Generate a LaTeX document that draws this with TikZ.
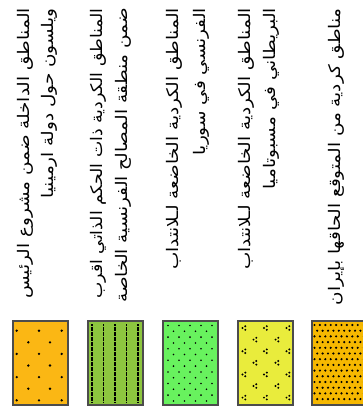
\documentclass[tikz,border=0pt]{standalone}
\usepackage{fontspec}
\newfontfamily\arabicfont[Script=Arabic]{DejaVu Sans}
\TeXXeTstate=1
\tikzset{
  lbl/.style={rotate=90, xscale=1.15, anchor=east, inner sep=0pt, font=\arabicfont\fontsize{16}{18}\selectfont},
  box/.style={draw=black!70, line width=1.1pt},
}
\begin{document}
\begin{tikzpicture}[x=1pt,y=-1pt]
\useasboundingbox (0,0) rectangle (362,412);
% texts
\node[lbl] (c1a) at (25,8) {\beginR المناطق الداخلة ضمن مشروع الرئيس\endR};
\node[lbl] (c1b) at (49,8) {\beginR ويلسون حول دولة ارمينيا\endR};
\node[lbl, xscale=0.94] (c2a) at (98,8) {\beginR المناطق الكردية ذات الحكم الذاتي اقرب\endR};
\node[lbl] (c2b) at (123,8) {\beginR ضمن منطقة المصالح الفرنسية الخاصة\endR};
\node[lbl] (c3a) at (174,8) {\beginR المناطق الكردية الخاضعة لـلانتداب\endR};
\node[lbl] (c3b) at (201,8) {\beginR الفرنسي في سوريا\endR};
\node[lbl] (c4a) at (246,8) {\beginR المناطق الكردية الخاضعة لـلانتداب\endR};
\node[lbl] (c4b) at (271,8) {\beginR البريطاني في مسبوتاميا\endR};
\node[lbl] (c5a) at (336,8) {\beginR مناطق كردية من المتوقع الحاقها بإيران\endR};
% box 1
\fill[color={rgb,255:red,251;green,183;blue,20}] (13,321) rectangle (68,405);
\foreach \k in {0,...,6} {
  \pgfmathsetmacro\yy{330.7+11.6*\k}
  \ifodd\k
    \foreach \xx in {28.3,50} {\fill (\xx,\yy) circle (1.3pt);}
  \else
    \foreach \xx in {16.7,39,61.7} {\fill (\xx,\yy) circle (1.3pt);}
  \fi
}
\draw[box] (13,321) rectangle (68,405);
% box 2
\fill[color={rgb,255:red,141;green,198;blue,63}] (88,321) rectangle (143,405);
\foreach \xx in {92,103.5,115,126.5,138} {
  \draw[line width=1.3pt, dash pattern=on 2pt off 0.5pt] (\xx,324) -- (\xx,402);
}
\draw[box] (88,321) rectangle (143,405);
% box 3
\fill[color={rgb,255:red,104;green,242;blue,94}] (163,321) rectangle (218,405);
\foreach \k in {0,...,13} {
  \pgfmathsetmacro\yy{325.5+5.8*\k}
  \ifodd\k
    \foreach \j in {0,...,3} {\fill (173.5+11*\j,\yy) circle (0.9pt);}
  \else
    \foreach \j in {0,...,4} {\fill (168+11*\j,\yy) circle (0.9pt);}
  \fi
}
\draw[box] (163,321) rectangle (218,405);
% box 4
\fill[color={rgb,255:red,233;green,236;blue,60}] (238,321) rectangle (293,405);
\foreach \k in {0,...,6} {
  \pgfmathsetmacro\yy{328+11.6*\k}
  \ifodd\k
    \foreach \xx in {255,277} {
      \fill (\xx-1.5,\yy) circle (1.1pt) (\xx+1.3,\yy-1.8) circle (1.1pt) (\xx+1.3,\yy+1.8) circle (1.1pt);}
  \else
    \foreach \xx in {244,265.5,288} {
      \fill (\xx-1.5,\yy) circle (1.1pt) (\xx+1.3,\yy-1.8) circle (1.1pt) (\xx+1.3,\yy+1.8) circle (1.1pt);}
  \fi
}
\draw[box] (238,321) rectangle (293,405);
% box 5
\fill[color={rgb,255:red,246;green,184;blue,0}] (312,321) rectangle (368,405);
\begin{scope}
\clip (313,322) rectangle (362,404);
\foreach \k in {0,...,13} {
  \pgfmathsetmacro\yy{325+5.7*\k}
  \ifodd\k
    \foreach \j in {0,...,9} {\fill (317.2+5.4*\j,\yy) circle (1.2pt);}
  \else
    \foreach \j in {0,...,9} {\fill (314.5+5.4*\j,\yy) circle (1.2pt);}
  \fi
}
\end{scope}
\draw[box] (312,321) rectangle (368,405);
\end{tikzpicture}
\end{document}
